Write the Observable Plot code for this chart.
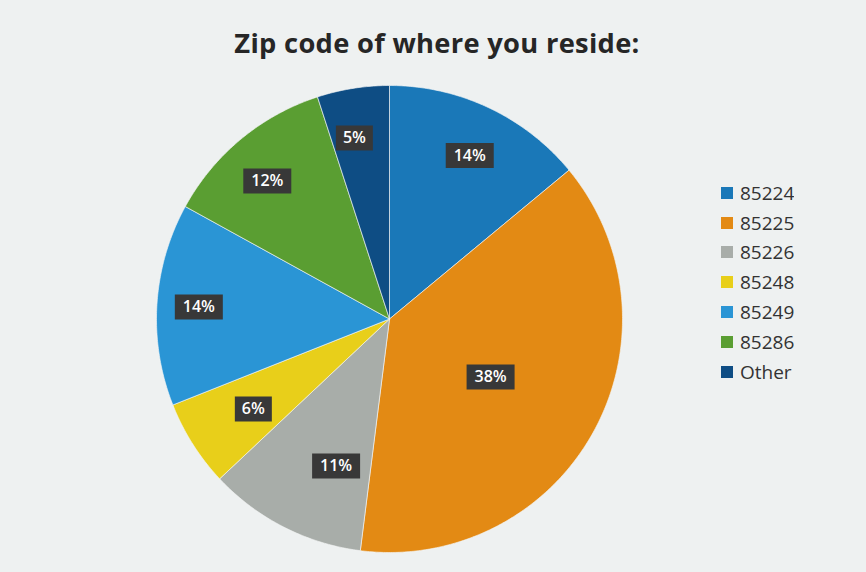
<!DOCTYPE html>
<html>
<head>
<meta charset="utf-8">
<script src="https://cdn.jsdelivr.net/npm/d3@7"></script>
<script src="https://cdn.jsdelivr.net/npm/@observablehq/plot@0.6"></script>
<style>
  html, body { margin: 0; padding: 0; background: #eef1f1; }
  #wrap { position: relative; width: 866px; height: 572px; background: #eef1f1; overflow: hidden; font-family: "Open Sans", sans-serif; }
  #title { position: absolute; left: 0; width: 874px; top: 29px; line-height: 27px; text-align: center; font-size: 27.3px; font-weight: 700; color: #262626; letter-spacing: 0.3px; white-space: nowrap; }
  #chart { position: absolute; left: 0; top: 0; }
  #legend { position: absolute; left: 721px; top: 178px; }
  .zleg-swatch { height: 29.8px; padding-bottom: 0 !important; align-items: center; }
  .zleg-swatch svg { margin-right: 7px !important; }
</style>
</head>
<body>
<div id="wrap">
  <div id="chart"></div>
  <div id="title">Zip code of where you reside:</div>
  <div id="legend"></div>
</div>
<script>
// ---- data ----
const zips = ["85224", "85225", "85226", "85248", "85249", "85286", "Other"];
const shares = [14, 38, 11, 6, 14, 12, 5];
const colors = ["#1a78b8", "#e38a14", "#a8ada9", "#e8cf1a", "#2a95d5", "#5a9e32", "#0e4d84"];

// ---- label layout (best-fit placement, fraction of radius / angle nudge in degrees) ----
const labelRadius = [0.78, 0.50, 0.67, 0.70, 0.82, 0.79, 0.79];
const labelTurn = [1, 1, -7, -1, 0, -2, -2];

const data = zips.map((z, i) => ({zip: z, value: shares[i]}));

// pie geometry computed from the data (angles clockwise from 12 o'clock)
const arcs = d3.pie().sort(null).value(d => d.value)(data);
const slicePts = [];
for (const a of arcs) {
  const n = Math.max(2, Math.ceil((a.endAngle - a.startAngle) / 0.01));
  slicePts.push({zip: a.data.zip, x: 0, y: 0});
  for (let k = 0; k <= n; k++) {
    const t = a.startAngle + (a.endAngle - a.startAngle) * k / n;
    slicePts.push({zip: a.data.zip, x: Math.sin(t), y: Math.cos(t)});
  }
  slicePts.push({zip: a.data.zip, x: 0, y: 0});
}
const labelPts = arcs.map((a, i) => {
  const m = (a.startAngle + a.endAngle) / 2 + labelTurn[i] * Math.PI / 180;
  const r = labelRadius[i];
  return {zip: a.data.zip, label: a.data.value + "%", x: r * Math.sin(m), y: r * Math.cos(m)};
});

const wideBox = { draw(ctx) { ctx.rect(-24, -12.5, 48, 25); } };
const narrowBox = { draw(ctx) { ctx.rect(-18.5, -12.5, 37, 25); } };

const plot = Plot.plot({
  width: 866,
  height: 572,
  marginLeft: 156,
  marginRight: 244,
  marginTop: 85,
  marginBottom: 20,
  x: {domain: [-1, 1], axis: null},
  y: {domain: [-1, 1], axis: null},
  color: {domain: zips, range: colors},
  style: {background: "transparent", fontFamily: "Open Sans, sans-serif"},
  marks: [
    Plot.line(slicePts, {x: "x", y: "y", z: "zip", fill: "zip", stroke: "#f4f6f6", strokeWidth: 0.8, strokeOpacity: 0.8}),
    Plot.dot(labelPts.filter(d => d.label.length > 2), {x: "x", y: "y", symbol: wideBox, fill: "#383838", stroke: "none"}),
    Plot.dot(labelPts.filter(d => d.label.length <= 2), {x: "x", y: "y", symbol: narrowBox, fill: "#383838", stroke: "none"}),
    Plot.text(labelPts, {x: "x", y: "y", text: "label", fill: "white", fontSize: 16, fontWeight: 600})
  ]
});
document.getElementById("chart").appendChild(plot);

const leg = Plot.legend({
  color: {domain: zips, range: colors},
  legend: "swatches",
  columns: 1,
  swatchSize: 12,
  className: "zleg",
  style: {fontSize: "19px", fontFamily: "Open Sans, sans-serif", color: "#333", background: "transparent"}
});
document.getElementById("legend").appendChild(leg);
</script>
</body>
</html>
